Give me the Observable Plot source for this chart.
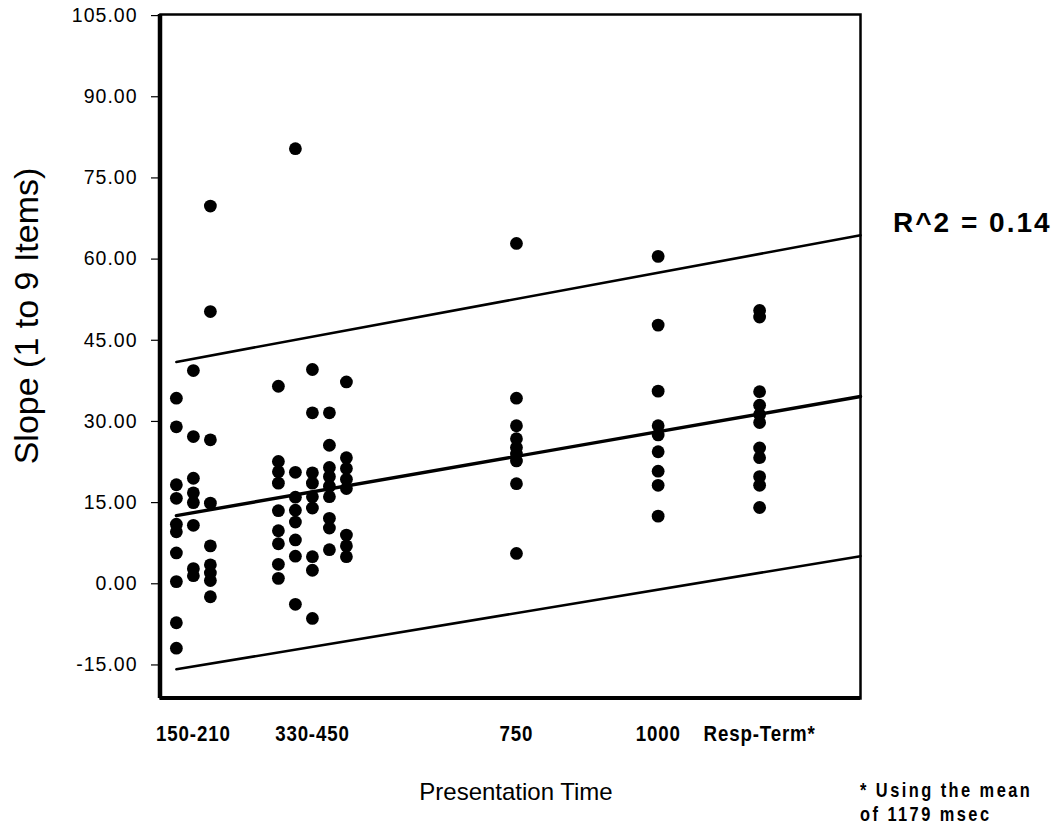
<!DOCTYPE html>
<html>
<head>
<meta charset="utf-8">
<script src="https://cdn.jsdelivr.net/npm/d3@7"></script>
<script src="https://cdn.jsdelivr.net/npm/@observablehq/plot@0.6"></script>
<style>
  html, body { margin: 0; padding: 0; background: #fff; }
  #chart { width: 1059px; height: 824px; overflow: hidden; }
</style>
</head>
<body>
<div id="chart"></div>
<script>
// ---- data ----
const slopes150 = [34.3, 29.0, 18.3, 15.8, 11.0, 9.6, 5.7, 0.4, -7.2, -11.9];
const slopes180 = [39.4, 27.2, 19.5, 16.8, 15.0, 10.8, 2.8, 1.5];
const slopes210 = [69.8, 50.3, 26.6, 14.9, 7.0, 3.5, 2.0, 0.6, -2.4];
const slopes330 = [36.5, 22.6, 20.7, 18.6, 13.5, 9.8, 7.4, 3.6, 1.0];
const slopes360 = [80.4, 20.6, 16.0, 13.6, 11.4, 8.1, 5.1, -3.8];
const slopes390 = [39.6, 31.6, 20.5, 18.6, 16.1, 14.0, 5.0, 2.5, -6.4];
const slopes420 = [31.6, 25.6, 21.5, 19.8, 18.0, 16.1, 12.1, 10.3, 6.3];
const slopes450 = [37.3, 23.3, 21.3, 19.3, 17.6, 9.0, 7.0, 5.0];
const slopes750 = [62.9, 34.3, 29.2, 26.8, 25.2, 24.0, 22.7, 18.5, 5.6];
const slopes1000 = [60.5, 47.8, 35.6, 29.2, 27.5, 24.4, 20.8, 18.2, 12.5];
const slopesResp = [50.5, 49.3, 35.5, 33.0, 31.3, 29.8, 25.1, 23.3, 19.8, 18.2, 14.1];

const groupTimes = [150, 180, 210, 330, 360, 390, 420, 450, 750, 1000, 1179];
const groupSlopes = [slopes150, slopes180, slopes210, slopes330, slopes360, slopes390,
                     slopes420, slopes450, slopes750, slopes1000, slopesResp];

// regression fit and prediction bounds (endpoints)
const fitTime = [150, 1357];
const fitMid = [12.6, 34.6];
const fitUpper = [41.0, 64.4];
const fitLower = [-15.8, 5.1];

const xTickValues = [180, 390, 750, 1000, 1179];
const xTickLabels = ["150-210", "330-450", "750", "1000", "Resp-Term*"];
const yTickValues = [-15, 0, 15, 30, 45, 60, 75, 90, 105];

const yTitle = "Slope (1 to 9 Items)";
const xTitle = "Presentation Time";
const r2Text = "R^2 = 0.14";
const footLines = ["* Using the mean", "of 1179 msec"];

// ---- build tables ----
const points = [];
groupTimes.forEach((t, i) => groupSlopes[i].forEach(s => points.push({time: t, slope: s})));
const fitRows = fitTime.map((t, i) => ({time: t, mid: fitMid[i], upper: fitUpper[i], lower: fitLower[i]}));
const xLabelMap = new Map(xTickValues.map((v, i) => [v, xTickLabels[i]]));

const W = 1059, H = 824;
const mL = 160, mR = 199, mT = 14, mB = 126;
const FONT = "'Liberation Sans', Arial, sans-serif";

const plot = Plot.plot({
  width: W,
  height: H,
  marginLeft: mL,
  marginRight: mR,
  marginTop: mT,
  marginBottom: mB,
  style: {fontFamily: FONT, background: "#fff", color: "#000"},
  x: {type: "linear", domain: [122, 1357]},
  y: {type: "linear", domain: [-21.2, 105.2]},
  marks: [
    Plot.line(fitRows, {x: "time", y: "upper", stroke: "#000", strokeWidth: 2.6}),
    Plot.line(fitRows, {x: "time", y: "lower", stroke: "#000", strokeWidth: 2.6}),
    Plot.line(fitRows, {x: "time", y: "mid", stroke: "#000", strokeWidth: 3.4}),
    Plot.dot(points, {x: "time", y: "slope", r: 6.4, fill: "#000", stroke: null}),
    Plot.frame({stroke: "#000", strokeWidth: 2.5}),
    Plot.axisY({
      ticks: yTickValues,
      tickFormat: d => d.toFixed(2),
      tickSize: 9,
      tickPadding: 14,
      fontSize: 19.5,
      label: null,
      strokeWidth: 1.2
    }),
    Plot.axisX({
      ticks: xTickValues,
      tickFormat: d => xLabelMap.get(d),
      tickSize: 0,
      tickPadding: 27,
      fontSize: 22,
      fontWeight: "bold",
      label: null
    })
  ]
});

document.getElementById("chart").appendChild(plot);

const svg = d3.select(plot);
svg.selectAll('g[aria-label="y-axis tick label"] text').style("letter-spacing", "1px");
svg.selectAll('g[aria-label="x-axis tick label"] text')
  .style("letter-spacing", "1px")
  .each(function() {
    const t = d3.select(this);
    const tr = t.attr("transform") || "";
    t.attr("transform", tr + " scale(0.85,1)");
  });

// thicker left & bottom borders
svg.append("line").attr("x1", mL).attr("x2", mL).attr("y1", mT).attr("y2", H - mB)
  .attr("stroke", "#000").attr("stroke-width", 4.5);
svg.append("line").attr("x1", mL).attr("x2", W - mR).attr("y1", H - mB).attr("y2", H - mB)
  .attr("stroke", "#000").attr("stroke-width", 4);

// axis titles
svg.append("text")
  .attr("transform", "translate(38,316) rotate(-90)")
  .attr("text-anchor", "middle")
  .style("font-family", FONT)
  .style("font-size", "34px")
  .text(yTitle);

svg.append("text")
  .attr("x", 516).attr("y", 800)
  .attr("text-anchor", "middle")
  .style("font-family", FONT)
  .style("font-size", "24px")
  .text(xTitle);

svg.append("text")
  .attr("x", 893).attr("y", 232)
  .attr("text-anchor", "start")
  .style("font-family", FONT)
  .style("font-weight", "bold")
  .style("font-size", "28px")
  .style("letter-spacing", "2px")
  .text(r2Text);

footLines.forEach((line, i) => {
  svg.append("text")
    .attr("transform", `translate(860,${797 + i * 24}) scale(0.82,1)`)
    .attr("x", 0).attr("y", 0)
    .attr("text-anchor", "start")
    .style("font-family", FONT)
    .style("font-weight", "bold")
    .style("font-size", "20px")
    .style("letter-spacing", "3px")
    .text(line);
});
</script>
</body>
</html>
